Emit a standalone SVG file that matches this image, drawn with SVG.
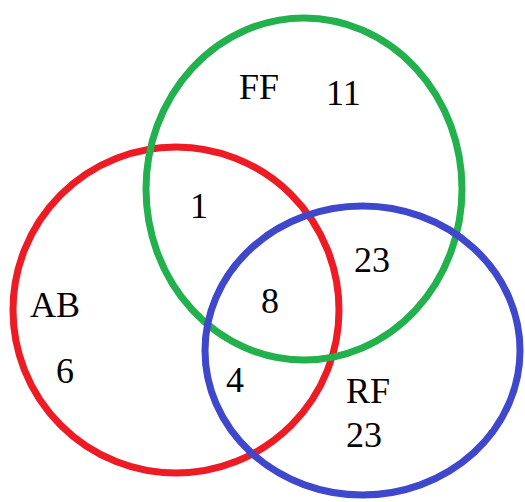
<svg xmlns="http://www.w3.org/2000/svg" width="525" height="502" viewBox="0 0 525 502">
<style>
.c{fill:none;stroke-width:7}
.t{font-family:"Liberation Serif","Times New Roman",serif;font-size:36px;fill:#000}
</style>
<rect width="525" height="502" fill="#fff"/>
<g id="AB"><ellipse class="c" cx="176" cy="310" rx="163" ry="163" stroke="#ED1C24"/></g>
<g id="FF"><ellipse class="c" cx="304" cy="189" rx="158" ry="171" stroke="#22B14C"/></g>
<g id="RF"><ellipse class="c" cx="362.5" cy="350.5" rx="157.5" ry="144.5" stroke="#3F48CC"/></g>
<g id="labels">
<text class="t" x="239" y="99">FF</text>
<text class="t" x="326" y="105">11</text>
<text class="t" x="190" y="218">1</text>
<text class="t" x="354" y="272">23</text>
<text class="t" x="261" y="313">8</text>
<text class="t" x="30" y="317">AB</text>
<text class="t" x="56" y="383">6</text>
<text class="t" x="226" y="392">4</text>
<text class="t" x="346" y="403">RF</text>
<text class="t" x="346" y="447">23</text>
</g>
</svg>
